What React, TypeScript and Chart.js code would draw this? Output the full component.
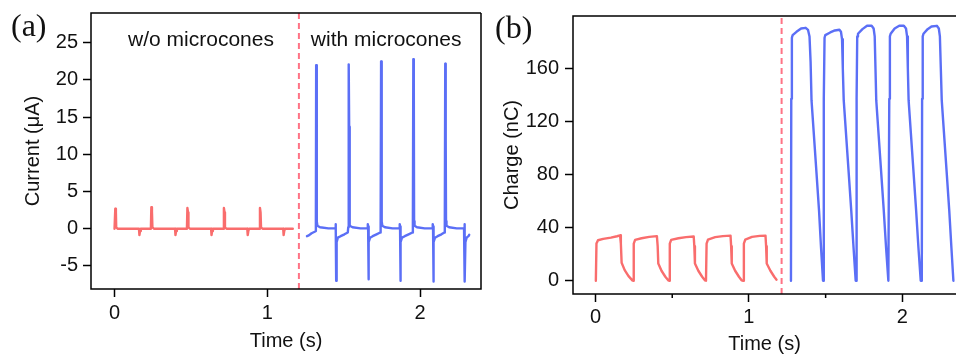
import { useEffect, useRef } from "react";
import { Chart, registerables } from "chart.js";

Chart.register(...registerables);

// ---------- data ----------
const currentXTicks = [0, 1, 2];
const currentYTicks = [-5, 0, 5, 10, 15, 20, 25];
const chargeXTicks = [0, 1, 2];
const chargeXMinorTicks = [0.5, 1.5];
const chargeYTicks = [0, 40, 80, 120, 160];

const currentXRange = [-0.154, 2.399];
const currentYRange = [-8.1, 29.0];
const chargeXRange = [-0.147, 2.35];
const chargeYRange = [-10.0, 199.4];

const dividerCurrent = 1.207;
const dividerCharge = 1.213;

const currentNotes = [
  { text: "w/o microcones", x: 0.566, y: 24.6 },
  { text: "with microcones", x: 1.778, y: 24.6 },
];

// Current (µA) without microcones: [time s, current µA]
const currentWithout: [number, number][] = [
  [0.0, 0.0], [0.003, 0.0], [0.005, 2.7], [0.009, 2.2], [0.011, 0.2], [0.02, 0.0],
  [0.16, 0.0], [0.163, -0.85], [0.167, -0.3], [0.172, 0.0],
  [0.238, 0.0], [0.241, 2.9], [0.245, 2.3], [0.248, 0.2], [0.258, 0.0],
  [0.396, 0.0], [0.399, -0.85], [0.403, -0.3], [0.408, 0.0],
  [0.474, 0.0], [0.477, 2.8], [0.481, 2.2], [0.484, 0.2], [0.494, 0.0],
  [0.632, 0.0], [0.635, -0.85], [0.639, -0.3], [0.644, 0.0],
  [0.713, 0.0], [0.716, 2.8], [0.72, 2.2], [0.723, 0.2], [0.733, 0.0],
  [0.869, 0.0], [0.872, -0.85], [0.876, -0.3], [0.881, 0.0],
  [0.949, 0.0], [0.952, 2.8], [0.956, 2.2], [0.959, 0.2], [0.969, 0.0],
  [1.104, 0.0], [1.107, -0.85], [1.111, -0.3], [1.116, 0.0],
  [1.167, 0.0],
];

// Current (µA) with microcones
const currentWith: [number, number][] = [
  [1.26, -1.0], [1.272, -0.9], [1.29, -0.6], [1.31, -0.4], [1.317, -0.3], [1.318, 0.2],
  [1.32, 22.0], [1.323, 18.2], [1.325, 1.0], [1.328, 0.4], [1.345, 0.2], [1.4, 0.05], [1.445, 0.05],
  [1.447, 0.6], [1.449, 0.3], [1.451, -7.0], [1.454, -1.8], [1.462, -1.2], [1.48, -1.0], [1.505, -0.75],
  [1.527, -0.5], [1.53, 0.2],
  [1.533, 22.1], [1.536, 13.7], [1.538, 1.0], [1.541, 0.4], [1.558, 0.2], [1.61, 0.05], [1.656, 0.05],
  [1.658, 0.6], [1.66, 0.3], [1.662, -6.8], [1.665, -1.8], [1.673, -1.2], [1.69, -1.0], [1.715, -0.75],
  [1.739, -0.5], [1.742, 0.2],
  [1.745, 22.5], [1.748, 18.0], [1.75, 1.0], [1.753, 0.4], [1.77, 0.2], [1.82, 0.05], [1.865, 0.05],
  [1.867, 0.6], [1.869, 0.3], [1.871, -7.0], [1.874, -1.8], [1.882, -1.2], [1.9, -1.0], [1.925, -0.75],
  [1.95, -0.5], [1.953, 0.2],
  [1.956, 22.8], [1.959, 20.0], [1.961, 1.0], [1.964, 0.4], [1.98, 0.2], [2.03, 0.05], [2.081, 0.05],
  [2.083, 0.6], [2.085, 0.3], [2.087, -7.1], [2.09, -1.8], [2.098, -1.2], [2.115, -1.0], [2.14, -0.75],
  [2.159, -0.5], [2.162, 0.2],
  [2.165, 22.2], [2.168, 11.9], [2.17, 1.0], [2.173, 0.4], [2.19, 0.2], [2.24, 0.05], [2.288, 0.05],
  [2.29, 0.6], [2.292, 0.3], [2.294, -7.1], [2.297, -1.8], [2.305, -1.2], [2.317, -1.0], [2.322, -0.8],
];

// Charge (nC) without microcones
const chargeWithout: [number, number][] = [
  [0.002, 0], [0.006, 28], [0.016, 30.5], [0.05, 31.5], [0.1, 32.5], [0.14, 33.5], [0.16, 34.2],
  [0.165, 28], [0.17, 13.5], [0.19, 8], [0.215, 3.5], [0.24, 0.3],
  [0.245, 0], [0.249, 28], [0.258, 30.8], [0.3, 32], [0.35, 33], [0.4, 33.6],
  [0.405, 26], [0.409, 13], [0.43, 7.5], [0.455, 3], [0.474, 0.3],
  [0.48, 0], [0.484, 28], [0.493, 30.8], [0.54, 32], [0.59, 32.8], [0.64, 33.3],
  [0.644, 26], [0.648, 13], [0.67, 7.5], [0.695, 3], [0.713, 0.3],
  [0.72, 0], [0.724, 28], [0.733, 31], [0.78, 32.8], [0.83, 33.6], [0.88, 34],
  [0.884, 26], [0.888, 13], [0.91, 7.5], [0.935, 3], [0.952, 0.3],
  [0.963, 0], [0.967, 28], [0.976, 31], [1.02, 33], [1.07, 33.8], [1.108, 34],
  [1.112, 26], [1.116, 13], [1.14, 7.5], [1.165, 3], [1.18, 0.8],
];

// Charge (nC) with microcones
const chargeWith: [number, number][] = [
  [1.274, 0], [1.276, 137], [1.28, 183], [1.285, 185], [1.31, 187.5], [1.34, 190], [1.37, 190.5],
  [1.385, 189], [1.395, 184], [1.402, 165], [1.408, 136], [1.44, 82], [1.457, 53], [1.47, 25], [1.483, 0],
  [1.487, 0], [1.489, 137], [1.493, 183], [1.498, 185], [1.53, 187], [1.56, 188.5], [1.59, 189],
  [1.6, 187.5], [1.607, 182], [1.612, 160], [1.618, 136], [1.65, 82], [1.667, 53], [1.682, 25], [1.696, 0],
  [1.7, 0], [1.702, 137], [1.706, 184], [1.711, 186], [1.74, 189.5], [1.77, 192], [1.8, 192],
  [1.813, 190], [1.82, 184], [1.825, 160], [1.83, 136], [1.862, 82], [1.879, 53], [1.894, 25], [1.909, 0],
  [1.913, 0], [1.915, 137], [1.919, 184], [1.924, 186], [1.95, 190], [1.98, 192], [2.01, 192],
  [2.024, 190], [2.031, 184], [2.036, 160], [2.041, 136], [2.073, 82], [2.09, 53], [2.105, 25], [2.12, 0],
  [2.127, 0], [2.129, 137], [2.133, 184], [2.138, 186], [2.165, 189.5], [2.19, 191.5], [2.225, 192],
  [2.238, 190], [2.245, 184], [2.251, 160], [2.257, 136], [2.289, 82], [2.306, 53], [2.32, 25], [2.333, 0],
];

// ---------- styles ----------
const RED = "#f96d6d";
const BLUE = "#5b6ff6";
const DASH = "#ff7385";
const SANS = "'Liberation Sans', Arial, sans-serif";
const SERIF = "'Liberation Serif', 'Times New Roman', serif";

const framePlugin = {
  id: "frame",
  afterDatasetsDraw(chart: any, _args: any, opts: any) {
    const { ctx, chartArea: a } = chart;
    ctx.save();
    ctx.strokeStyle = "#000";
    ctx.lineWidth = 1.5;
    ctx.beginPath();
    ctx.moveTo(a.right, a.top);
    ctx.lineTo(a.left, a.top);
    ctx.lineTo(a.left, a.bottom);
    ctx.lineTo(a.right, a.bottom);
    if (opts.closeRight) ctx.lineTo(a.right, a.top);
    ctx.stroke();

    const xs = chart.scales.x;
    ctx.lineWidth = 1.5;
    (opts.minorTicks || []).forEach((v: number) => {
      const px = xs.getPixelForValue(v);
      ctx.beginPath();
      ctx.moveTo(px, a.bottom);
      ctx.lineTo(px, a.bottom + 4);
      ctx.stroke();
    });

    ctx.fillStyle = "#111";
    ctx.textBaseline = "alphabetic";
    ctx.textAlign = "center";
    ctx.font = `21px ${SANS}`;
    const ys = chart.scales.y;
    (opts.notes || []).forEach((n: any) => {
      ctx.fillText(n.text, xs.getPixelForValue(n.x), ys.getPixelForValue(n.y));
    });

    ctx.textAlign = "left";
    ctx.font = `32px ${SERIF}`;
    ctx.fillText(opts.panel, opts.panelX, opts.panelY);
    ctx.restore();
  },
};

function toPoints(arr: [number, number][]) {
  return arr.map(([x, y]) => ({ x, y }));
}

function makeConfig(p: any) {
  const tickFont = { family: SANS, size: 20 };
  const lineStyle = {
    borderWidth: 2.4,
    pointRadius: 0,
    tension: 0,
    borderJoinStyle: "round",
    borderCapStyle: "round",
  };
  return {
    type: "line",
    data: {
      datasets: [
        {
          data: [
            { x: p.divider, y: p.yRange[0] },
            { x: p.divider, y: p.yRange[1] },
          ],
          borderColor: DASH,
          borderWidth: 2,
          borderDash: [6, 4],
          pointRadius: 0,
        },
        { data: toPoints(p.red), borderColor: RED, ...lineStyle },
        { data: toPoints(p.blue), borderColor: BLUE, ...lineStyle },
      ],
    },
    options: {
      animation: false,
      responsive: false,
      maintainAspectRatio: false,
      layout: { padding: p.padding },
      plugins: {
        legend: { display: false },
        tooltip: { enabled: false },
        frame: {
          closeRight: p.closeRight,
          minorTicks: p.minorTicks,
          notes: p.notes,
          panel: p.panel,
          panelX: p.panelX,
          panelY: p.panelY,
        },
      },
      scales: {
        x: {
          type: "linear",
          min: p.xRange[0],
          max: p.xRange[1],
          afterBuildTicks: (s: any) => {
            s.ticks = p.xTicks.map((v: number) => ({ value: v }));
          },
          afterFit: (s: any) => {
            s.height = p.xAxisHeight;
            s.paddingLeft = 0;
            s.paddingRight = 0;
          },
          ticks: {
            font: tickFont,
            color: "#111",
            padding: p.xTickPad,
            maxRotation: 0,
            autoSkip: false,
            callback: (v: any) => String(v),
          },
          grid: {
            drawOnChartArea: false,
            drawTicks: true,
            tickLength: 8,
            tickColor: "#000",
            tickWidth: 1.5,
          },
          border: { display: false },
          title: {
            display: true,
            text: "Time (s)",
            font: { family: SANS, size: 20 },
            color: "#111",
            padding: { top: 0, bottom: p.xTitlePad },
          },
        },
        y: {
          type: "linear",
          min: p.yRange[0],
          max: p.yRange[1],
          afterBuildTicks: (s: any) => {
            s.ticks = p.yTicks.map((v: number) => ({ value: v }));
          },
          afterFit: (s: any) => {
            s.width = p.yAxisWidth;
            s.paddingTop = 0;
            s.paddingBottom = 0;
          },
          ticks: {
            font: tickFont,
            color: "#111",
            padding: p.yTickPad,
            autoSkip: false,
            callback: (v: any) => String(v),
          },
          grid: {
            drawOnChartArea: false,
            drawTicks: true,
            tickLength: 8,
            tickColor: "#000",
            tickWidth: 1.5,
          },
          border: { display: false },
          title: {
            display: true,
            text: p.yTitle,
            font: { family: SANS, size: 20 },
            color: "#111",
            padding: { top: p.yTitlePad, bottom: 0 },
          },
        },
      },
    },
    plugins: [framePlugin],
  } as any;
}

export default function App() {
  const refA = useRef<HTMLCanvasElement>(null);
  const refB = useRef<HTMLCanvasElement>(null);

  useEffect(() => {
    const a = new Chart(
      refA.current as HTMLCanvasElement,
      makeConfig({
        red: currentWithout,
        blue: currentWith,
        divider: dividerCurrent,
        xRange: currentXRange,
        yRange: currentYRange,
        xTicks: currentXTicks,
        yTicks: currentYTicks,
        minorTicks: [],
        notes: currentNotes,
        yTitle: "Current (μA)",
        padding: { top: 13, right: 9, left: 0, bottom: 0 },
        xAxisHeight: 69,
        yAxisWidth: 91,
        xTickPad: 4,
        yTickPad: 5,
        xTitlePad: 5,
        yTitlePad: 21,
        closeRight: true,
        panel: "(a)",
        panelX: 11,
        panelY: 36,
      })
    );
    const b = new Chart(
      refB.current as HTMLCanvasElement,
      makeConfig({
        red: chargeWithout,
        blue: chargeWith,
        divider: dividerCharge,
        xRange: chargeXRange,
        yRange: chargeYRange,
        xTicks: chargeXTicks,
        yTicks: chargeYTicks,
        minorTicks: chargeXMinorTicks,
        notes: [],
        yTitle: "Charge (nC)",
        padding: { top: 16, right: 0, left: 0, bottom: 0 },
        xAxisHeight: 64,
        yAxisWidth: 83,
        xTickPad: 3,
        yTickPad: 6,
        xTitlePad: 2,
        yTitlePad: 10,
        closeRight: false,
        panel: "(b)",
        panelX: 5,
        panelY: 38,
      })
    );
    return () => {
      a.destroy();
      b.destroy();
    };
  }, []);

  return (
    <div style={{ position: "absolute", left: 0, top: 0, width: 956, height: 358, background: "#fff", overflow: "hidden" }}>
      <canvas ref={refA} width={490} height={358} style={{ position: "absolute", left: 0, top: 0, width: 490, height: 358 }} />
      <canvas ref={refB} width={466} height={358} style={{ position: "absolute", left: 490, top: 0, width: 466, height: 358 }} />
    </div>
  );
}
